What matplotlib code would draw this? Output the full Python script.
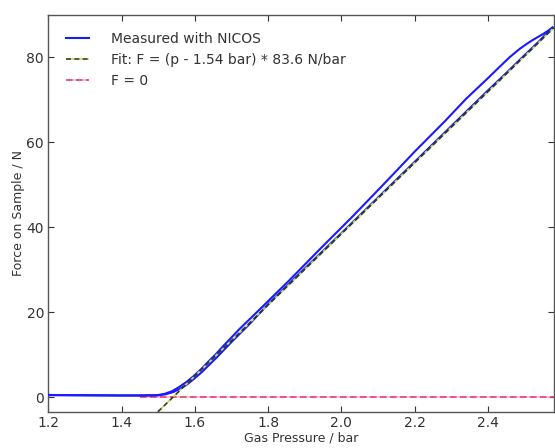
import matplotlib
matplotlib.use("Agg")
import matplotlib.pyplot as plt
import numpy as np

# Measured force vs. gas pressure (two branches of the hysteresis loop)
p_rise = [1.20, 1.25, 1.30, 1.35, 1.40, 1.45, 1.50, 1.52, 1.54, 1.56, 1.58,
          1.60, 1.62, 1.64, 1.66, 1.68, 1.70, 1.75, 1.80, 1.90, 2.00, 2.10,
          2.20, 2.30, 2.40, 2.45, 2.50, 2.54, 2.576]
F_rise = [0.50, 0.50, 0.45, 0.45, 0.40, 0.40, 0.45, 0.70, 1.20, 2.00, 3.10,
          4.50, 6.00, 7.70, 9.40, 11.2, 13.0, 17.3, 21.9, 30.3, 38.6, 47.0,
          55.4, 63.8, 72.2, 76.3, 80.5, 83.8, 87.0]

p_fall = [2.576, 2.565, 2.551, 2.537, 2.521, 2.505, 2.487, 2.459, 2.430,
          2.399, 2.340, 2.283, 2.200, 2.114, 2.030, 1.943, 1.860, 1.769,
          1.720, 1.677, 1.657, 1.637, 1.617, 1.597, 1.577, 1.557, 1.537,
          1.517, 1.497, 1.45, 1.40, 1.35, 1.30, 1.25, 1.20]
F_fall = [87.0, 86.3, 85.5, 84.8, 84.0, 83.1, 82.0, 80.0, 77.6,
          75.0, 70.2, 65.0, 57.8, 50.0, 42.5, 35.0, 27.7, 20.0,
          15.9, 12.0, 10.1, 8.4, 6.6, 5.0, 3.6, 2.4, 1.4,
          0.80, 0.50, 0.45, 0.45, 0.45, 0.50, 0.50, 0.55]

# Linear fit parameters
p0 = 1.54       # bar
slope = 83.6    # N/bar
p_fit = [1.45, 2.60]

p_lim = (1.2, 2.58)
F_lim = (-3.5, 90)
x_ticks = [1.2, 1.4, 1.6, 1.8, 2.0, 2.2, 2.4]
x_tick_labels = ["1.2", "1.4", "1.6", "1.8", "2.0", "2.2", "2.4"]
y_ticks = [0, 20, 40, 60, 80]

plt.rcParams["font.family"] = ["DejaVu Sans"]
fig = plt.figure(figsize=(5.55, 4.48), dpi=100)
ax = fig.add_axes([0.087, 0.080, 0.911, 0.887])

F_fit = [slope * (p - p0) for p in p_fit]

ax.plot(p_fit, [0, 0], linestyle=(0, (4, 2)), color="#e8386a",
        gapcolor="#f5b6c8", lw=1.2, label="F = 0", zorder=2)
ax.plot(p_rise, F_rise, color="#1a1aff", lw=1.5, zorder=3,
        label="Measured with NICOS")
ax.plot(p_fall, F_fall, color="#1a1aff", lw=1.5, zorder=3)
ax.plot(p_fit, F_fit, linestyle=(0, (3, 2)), color="#2d3d22",
        gapcolor="#c4dc48", lw=1.2, zorder=4,
        label=f"Fit: F = (p - {p0:.2f} bar) * {slope:.1f} N/bar")

ax.set_xlim(*p_lim)
ax.set_ylim(*F_lim)
ax.set_xticks(x_ticks)
ax.set_xticklabels(x_tick_labels)
ax.set_yticks(y_ticks)
ax.tick_params(direction="in", top=True, right=True, length=4,
               labelsize=10, colors="#333333", pad=3)
for s in ax.spines.values():
    s.set_color("#555555")
    s.set_linewidth(1.0)

ax.set_xlabel("Gas Pressure / bar", fontsize=9, color="#333333", labelpad=1)
ax.set_ylabel("Force on Sample / N", fontsize=9, color="#333333", labelpad=1)

h, l = ax.get_legend_handles_labels()
order = [1, 2, 0]
leg = ax.legend([h[i] for i in order], [l[i] for i in order],
                loc="upper left", frameon=False, fontsize=10,
                handlelength=1.7, handletextpad=1.6, labelspacing=0.5,
                borderaxespad=0.85)
for t in leg.get_texts():
    t.set_color("#333333")

fig.savefig("out.png", dpi=100)
